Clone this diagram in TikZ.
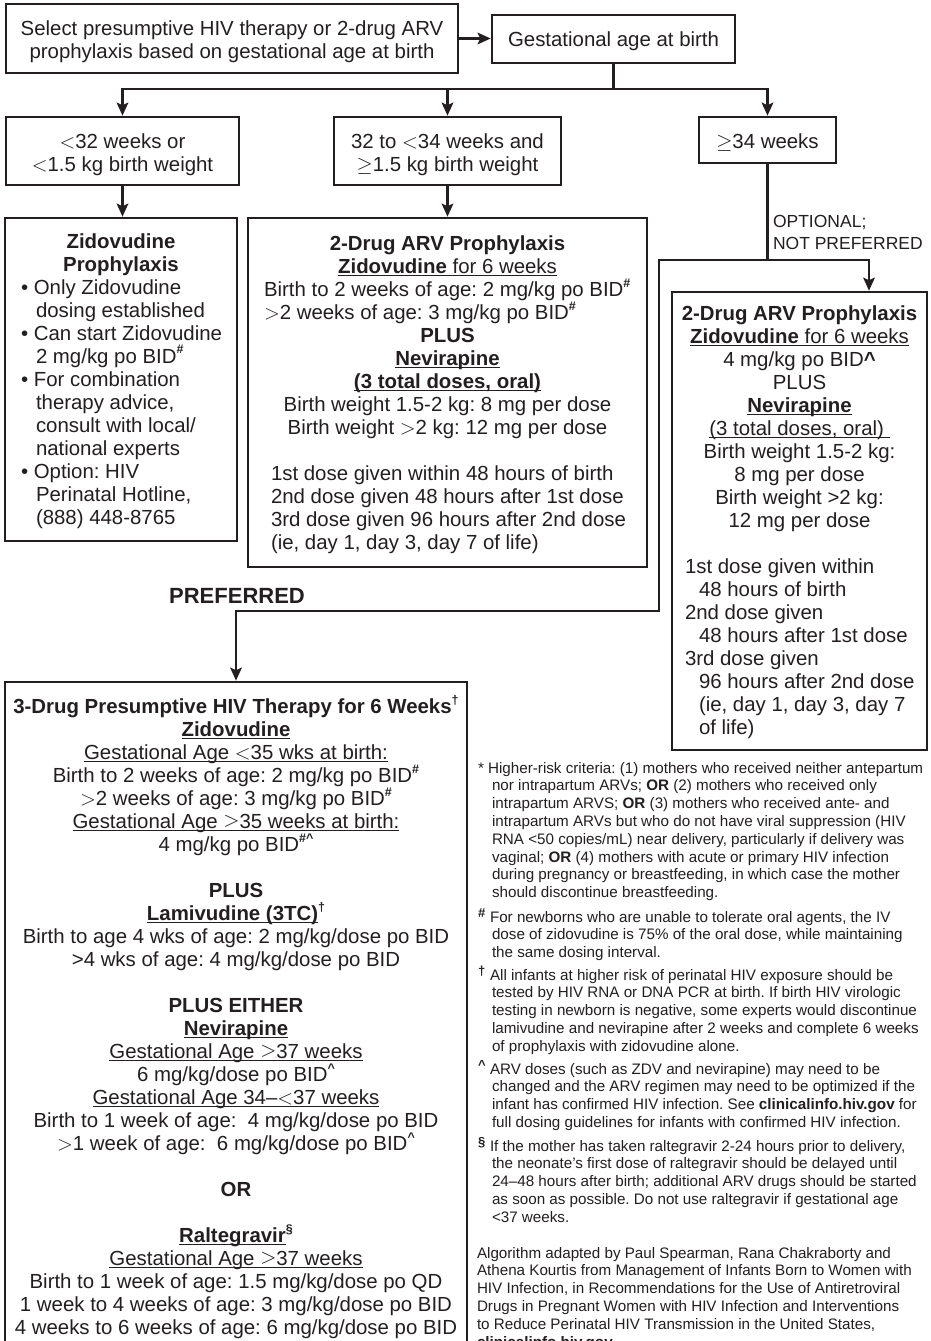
\documentclass[tikz,border=0pt]{standalone}
\usepackage{fontspec}
\setmainfont{Liberation Sans}
\usetikzlibrary{arrows.meta}
\definecolor{ink}{RGB}{35,31,32}
% type sizes
\newcommand\mainfs{\fontsize{20.4}{23}\selectfont\frenchspacing}
\newcommand\notefs{\fontsize{15.2}{17.8}\selectfont\frenchspacing}
% invisible struts fixing the height of a block's first line
\newcommand\firstln{\rule{0pt}{17pt}}
\newcommand\noteln{\rule{0pt}{14pt}}
% helpers
\newcommand\ulx[1]{\setbox0=\hbox{#1}\rlap{\rule[-2.8pt]{\wd0}{1.1pt}}\box0}
\newcommand\supx[1]{\raisebox{0.45em}{\fontsize{12.5}{12.5}\selectfont\bfseries #1}}
\newcommand\mlt{\ensuremath{<}}
\newcommand\mgt{\ensuremath{>}}
\newcommand\mge{\ensuremath{\geq}}
\newcommand\indn{\hspace*{14pt}}
\newcommand\bul{\hspace*{15pt}}
\newcommand\mkr[1]{\makebox[12pt][l]{\raisebox{0.3em}{\fontsize{13}{13}\selectfont\bfseries #1}}}
\begin{document}
\frenchspacing
\begin{tikzpicture}[x=1pt, y=-1pt, ink,
  box/.style={draw=ink, line width=2.6pt, inner sep=0pt, rectangle},
  txt/.style={inner sep=0pt, outer sep=0pt, anchor=north, align=center, font=\mainfs, text=ink},
  ltxt/.style={txt, anchor=north west, align=left},
  note/.style={inner sep=0pt, outer sep=0pt, anchor=north west, align=left, font=\notefs, text=ink},
  con/.style={draw=ink, line width=2.6pt},
  arr/.style={con, -{Stealth[length=13pt, width=11.5pt, inset=2.5pt]}}]
\useasboundingbox (0,0) rectangle (931,1341);
\clip (0,0) rectangle (931,1341);
\fill[white] (0,0) rectangle (931,1341);

% ---------- boxes ----------
\node[box, minimum width=452pt, minimum height=69pt] (sel)   at (232,38.5)   {};
\node[box, minimum width=243pt, minimum height=48pt] (gest)  at (613.5,39)   {};
\node[box, minimum width=233pt, minimum height=68pt] (lt32)  at (122.5,151)  {};
\node[box, minimum width=227pt, minimum height=68pt] (mid34) at (447.5,151)  {};
\node[box, minimum width=137pt, minimum height=46pt] (ge34)  at (767.5,140)  {};
\node[box, minimum width=232pt, minimum height=323pt] (zido) at (121,379.5)  {};
\node[box, minimum width=399pt, minimum height=349pt] (twodrug) at (447.5,392.5) {};
\node[box, minimum width=255pt, minimum height=458pt] (optbox)  at (799.5,521)   {};
\node[box, minimum width=462pt, minimum height=718pt] (three)   at (236,1041)    {};

% ---------- connectors ----------
\coordinate (bus)   at (613.5,89);
\coordinate (split) at (767.5,260);
\coordinate (jl)    at (659,260);
\coordinate (jr)    at (869,260);
\coordinate (bend)  at (659,611);

\draw[arr] (sel.east) -- (sel.east -| gest.west);
\draw[con] (gest.south) -- (bus);
\draw[arr] (bus) -| (lt32.north);
\draw[arr] (bus) -| (ge34.north);
\draw[arr] (mid34.north |- bus) -- (mid34.north);
\draw[arr] (lt32.south) -- (lt32.south |- zido.north);
\draw[arr] (mid34.south) -- (twodrug.north);
\draw[con] (ge34.south) -- (split);
\draw[arr] (split) -- (jr) -- (jr |- optbox.north);
\draw[arr] (split) -- (jl) -- (bend) -| (three.north);

% ---------- top rows ----------
\node[txt] (selt)  at (232,18)  {\firstln Select presumptive HIV therapy or 2-drug ARV\\prophylaxis based on gestational age at birth};
\node[txt] (gestt) at (613.5,29) {\firstln Gestational age at birth};
\node[txt] (lt32t)  at (122.5,131) {\firstln\mlt32 weeks or\\\mlt1.5 kg birth weight};
\node[txt] (mid34t) at (447.5,131) {\firstln 32 to \mlt34 weeks and\\\mge1.5 kg birth weight};
\node[txt] (ge34t)  at (767.5,131) {\firstln\mge34 weeks};
\node[ltxt, font=\fontsize{17.5}{22}\selectfont] (optl) at (773,213) {\rule{0pt}{14pt}OPTIONAL;\\NOT PREFERRED};

% ---------- zidovudine prophylaxis ----------
\node[txt] (zidoa) at (121,231) {\firstln\textbf{Zidovudine}\\\textbf{Prophylaxis}};
\node[ltxt] (zidob) at (21,277) {\firstln• Only Zidovudine\\\bul dosing established\\• Can start Zidovudine\\\bul 2 mg/kg po BID\supx{\#}\\• For combination\\\bul therapy advice,\\\bul consult with local/\\\bul national experts\\• Option: HIV\\\bul Perinatal Hotline,\\\bul (888) 448-8765};

% ---------- 2-drug prophylaxis (32 to <34 weeks) ----------
\node[txt] (twoa) at (447.5,233) {\firstln\textbf{2-Drug ARV Prophylaxis}\\\ulx{\textbf{Zidovudine} for 6 weeks}};
\node[ltxt] (twob) at (264,279) {\firstln Birth to 2 weeks of age: 2 mg/kg po BID\supx{\#}\\\mgt2 weeks of age: 3 mg/kg po BID\supx{\#}};
\node[txt] (twoc) at (447.5,325) {\firstln\textbf{PLUS}\\\ulx{\textbf{Nevirapine}}\\\ulx{\textbf{(3 total doses, oral)}}\\Birth weight 1.5-2 kg: 8 mg per dose\\Birth weight \mgt2 kg: 12 mg per dose};
\node[ltxt] (twod) at (271,463) {\firstln 1st dose given within 48 hours of birth\\2nd dose given 48 hours after 1st dose\\3rd dose given 96 hours after 2nd dose\\(ie, day 1, day 3, day 7 of life)};

% ---------- 2-drug prophylaxis (>=34 weeks) ----------
\node[txt] (opta) at (799.5,303) {\firstln\textbf{2-Drug ARV Prophylaxis}\\\ulx{\textbf{Zidovudine} for 6 weeks}\\4 mg/kg po BID\textbf{\textasciicircum}\\PLUS\\\ulx{\textbf{Nevirapine}}\\\ulx{(3 total doses, oral)\ }\\Birth weight 1.5-2 kg:\\8 mg per dose\\Birth weight >2 kg:\\12 mg per dose};
\node[ltxt] (optb) at (685,556) {\firstln 1st dose given within\\\indn 48 hours of birth\\2nd dose given\\\indn 48 hours after 1st dose\\3rd dose given\\\indn 96 hours after 2nd dose\\\indn (ie, day 1, day 3, day 7\\\indn of life)};

% ---------- preferred: 3-drug therapy ----------
\node[txt, font=\bfseries\fontsize{22}{26}\selectfont] (pref) at (237,586) {\firstln PREFERRED};
\node[txt] (threet) at (236,695) {\firstln\textbf{3-Drug Presumptive HIV Therapy for 6 Weeks}\supx{\textdagger}\\
\ulx{\textbf{Zidovudine}}\\
\ulx{Gestational Age \mlt35 wks at birth:}\\
Birth to 2 weeks of age: 2 mg/kg po BID\supx{\#}\\
\mgt2 weeks of age: 3 mg/kg po BID\supx{\#}\\
\ulx{Gestational Age \mge35 weeks at birth:}\\
4 mg/kg po BID\supx{\#\textasciicircum}\\[23pt]
\textbf{PLUS}\\
\ulx{\textbf{Lamivudine (3TC)}}\supx{\textdagger}\\
Birth to age 4 wks of age: 2 mg/kg/dose po BID\\
>4 wks of age: 4 mg/kg/dose po BID\\[23pt]
\textbf{PLUS EITHER}\\
\ulx{\textbf{Nevirapine}}\\
\ulx{Gestational Age \mge37 weeks}\\
6 mg/kg/dose po BID\supx{\textasciicircum}\\
\ulx{Gestational Age 34--\mlt37 weeks}\\
Birth to 1 week of age:\ \ 4 mg/kg/dose po BID\\
\mgt1 week of age:\ \ 6 mg/kg/dose po BID\supx{\textasciicircum}\\[23pt]
\textbf{OR}\\[23pt]
\ulx{\textbf{Raltegravir}}\supx{\S}\\
\ulx{Gestational Age \mge37 weeks}\\
Birth to 1 week of age: 1.5 mg/kg/dose po QD\\
1 week to 4 weeks of age: 3 mg/kg/dose po BID\\
4 weeks to 6 weeks of age: 6 mg/kg/dose po BID};

% ---------- footnotes ----------
\node[note] (fnstar) at (478,759) {\noteln* Higher-risk criteria: (1) mothers who received neither antepartum\\
\indn nor intrapartum ARVs; \textbf{OR} (2) mothers who received only\\
\indn intrapartum ARVS; \textbf{OR} (3) mothers who received ante- and\\
\indn intrapartum ARVs but who do not have viral suppression (HIV\\
\indn RNA <50 copies/mL) near delivery, particularly if delivery was\\
\indn vaginal; \textbf{OR} (4) mothers with acute or primary HIV infection\\
\indn during pregnancy or breastfeeding, in which case the mother\\
\indn should discontinue breastfeeding.};
\node[note] (fnhash) at (478,908) {\noteln\mkr{\#}For newborns who are unable to tolerate oral agents, the IV\\
\indn dose of zidovudine is 75\% of the oral dose, while maintaining\\
\indn the same dosing interval.};
\node[note] (fndag) at (478,966) {\noteln\mkr{\textdagger}All infants at higher risk of perinatal HIV exposure should be\\
\indn tested by HIV RNA or DNA PCR at birth. If birth HIV virologic\\
\indn testing in newborn is negative, some experts would discontinue\\
\indn lamivudine and nevirapine after 2 weeks and complete 6 weeks\\
\indn of prophylaxis with zidovudine alone.};
\node[note] (fncaret) at (478,1060) {\noteln\mkr{\textasciicircum}ARV doses (such as ZDV and nevirapine) may need to be\\
\indn changed and the ARV regimen may need to be optimized if the\\
\indn infant has confirmed HIV infection. See \textbf{clinicalinfo.hiv.gov} for\\
\indn full dosing guidelines for infants with confirmed HIV infection.};
\node[note] (fnsect) at (478,1137) {\noteln\mkr{\S}If the mother has taken raltegravir 2-24 hours prior to delivery,\\
\indn the neonate's first dose of raltegravir should be delayed until\\
\indn 24--48 hours after birth; additional ARV drugs should be started\\
\indn as soon as possible. Do not use raltegravir if gestational age\\
\indn <37 weeks.};
\node[note] (source) at (477,1244) {\noteln Algorithm adapted by Paul Spearman, Rana Chakraborty and\\
Athena Kourtis from Management of Infants Born to Women with\\
HIV Infection, in Recommendations for the Use of Antiretroviral\\
Drugs in Pregnant Women with HIV Infection and Interventions\\
to Reduce Perinatal HIV Transmission in the United States,\\
\textbf{clinicalinfo.hiv.gov}};
\end{tikzpicture}
\end{document}
